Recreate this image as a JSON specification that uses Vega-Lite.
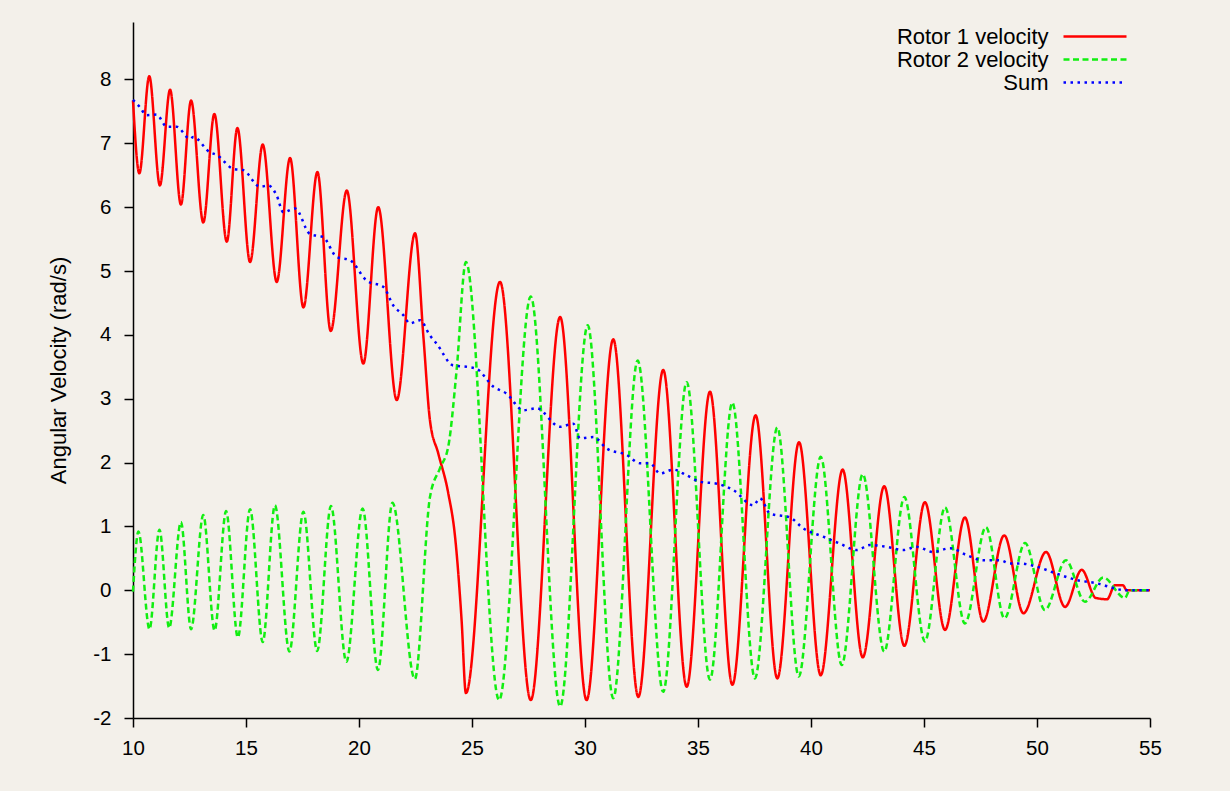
{
  "$schema": "https://vega.github.io/schema/vega-lite/v6.json",
  "width": 1017,
  "height": 696,
  "autosize": {"type": "none"},
  "padding": {"left": 133, "top": 22, "right": 80, "bottom": 73},
  "background": "#f3f0ea",
  "config": {
    "view": {"stroke": null},
    "font": "Liberation Sans",
    "axis": {
      "labelFont": "Liberation Sans",
      "labelFontSize": 20.5,
      "labelColor": "#000000",
      "titleFont": "Liberation Sans",
      "titleFontSize": 22,
      "titleFontWeight": "normal",
      "titleColor": "#000000",
      "domainColor": "#000000",
      "domainWidth": 1.5,
      "tickColor": "#000000",
      "tickWidth": 1.5,
      "tickSize": 9,
      "grid": false,
      "labelExpr": "'' + datum.value"
    }
  },
  "data": {
    "values": [
      {"series": "Rotor 1 velocity", "x": 10, "y": 7.67},
      {"series": "Rotor 1 velocity", "x": 10.28, "y": 6.53},
      {"series": "Rotor 1 velocity", "x": 10.72, "y": 8.05},
      {"series": "Rotor 1 velocity", "x": 11.19, "y": 6.34},
      {"series": "Rotor 1 velocity", "x": 11.64, "y": 7.84},
      {"series": "Rotor 1 velocity", "x": 12.12, "y": 6.04},
      {"series": "Rotor 1 velocity", "x": 12.57, "y": 7.67},
      {"series": "Rotor 1 velocity", "x": 13.11, "y": 5.76},
      {"series": "Rotor 1 velocity", "x": 13.6, "y": 7.46},
      {"series": "Rotor 1 velocity", "x": 14.15, "y": 5.46},
      {"series": "Rotor 1 velocity", "x": 14.62, "y": 7.24},
      {"series": "Rotor 1 velocity", "x": 15.18, "y": 5.14},
      {"series": "Rotor 1 velocity", "x": 15.74, "y": 6.98},
      {"series": "Rotor 1 velocity", "x": 16.36, "y": 4.83},
      {"series": "Rotor 1 velocity", "x": 16.95, "y": 6.77},
      {"series": "Rotor 1 velocity", "x": 17.54, "y": 4.43},
      {"series": "Rotor 1 velocity", "x": 18.16, "y": 6.55},
      {"series": "Rotor 1 velocity", "x": 18.75, "y": 4.06},
      {"series": "Rotor 1 velocity", "x": 19.46, "y": 6.26},
      {"series": "Rotor 1 velocity", "x": 20.19, "y": 3.55},
      {"series": "Rotor 1 velocity", "x": 20.85, "y": 6.0},
      {"series": "Rotor 1 velocity", "x": 21.67, "y": 2.98},
      {"series": "Rotor 1 velocity", "x": 22.48, "y": 5.59},
      {"series": "Rotor 1 velocity", "x": 22.85, "y": 3.97},
      {"series": "Rotor 1 velocity", "x": 23.14, "y": 2.66},
      {"series": "Rotor 1 velocity", "x": 23.51, "y": 2.14},
      {"series": "Rotor 1 velocity", "x": 23.95, "y": 1.52},
      {"series": "Rotor 1 velocity", "x": 24.25, "y": 0.84},
      {"series": "Rotor 1 velocity", "x": 24.54, "y": -0.47},
      {"series": "Rotor 1 velocity", "x": 24.73, "y": -1.61},
      {"series": "Rotor 1 velocity", "x": 26.24, "y": 4.83},
      {"series": "Rotor 1 velocity", "x": 27.6, "y": -1.72},
      {"series": "Rotor 1 velocity", "x": 28.9, "y": 4.28},
      {"series": "Rotor 1 velocity", "x": 30.07, "y": -1.72},
      {"series": "Rotor 1 velocity", "x": 31.25, "y": 3.93},
      {"series": "Rotor 1 velocity", "x": 32.36, "y": -1.67},
      {"series": "Rotor 1 velocity", "x": 33.46, "y": 3.45},
      {"series": "Rotor 1 velocity", "x": 34.5, "y": -1.51},
      {"series": "Rotor 1 velocity", "x": 35.53, "y": 3.11},
      {"series": "Rotor 1 velocity", "x": 36.52, "y": -1.48},
      {"series": "Rotor 1 velocity", "x": 37.55, "y": 2.74},
      {"series": "Rotor 1 velocity", "x": 38.51, "y": -1.38},
      {"series": "Rotor 1 velocity", "x": 39.47, "y": 2.32},
      {"series": "Rotor 1 velocity", "x": 40.43, "y": -1.33},
      {"series": "Rotor 1 velocity", "x": 41.4, "y": 1.89},
      {"series": "Rotor 1 velocity", "x": 42.29, "y": -1.05},
      {"series": "Rotor 1 velocity", "x": 43.24, "y": 1.63},
      {"series": "Rotor 1 velocity", "x": 44.13, "y": -0.87},
      {"series": "Rotor 1 velocity", "x": 45.04, "y": 1.38},
      {"series": "Rotor 1 velocity", "x": 45.93, "y": -0.62},
      {"series": "Rotor 1 velocity", "x": 46.81, "y": 1.14},
      {"series": "Rotor 1 velocity", "x": 47.62, "y": -0.49},
      {"series": "Rotor 1 velocity", "x": 48.55, "y": 0.86},
      {"series": "Rotor 1 velocity", "x": 49.4, "y": -0.36},
      {"series": "Rotor 1 velocity", "x": 50.4, "y": 0.6},
      {"series": "Rotor 1 velocity", "x": 51.24, "y": -0.26},
      {"series": "Rotor 1 velocity", "x": 51.98, "y": 0.32},
      {"series": "Rotor 1 velocity", "x": 52.6, "y": -0.12},
      {"series": "Rotor 1 velocity", "x": 53.1, "y": -0.14},
      {"series": "Rotor 1 velocity", "x": 53.45, "y": 0.08},
      {"series": "Rotor 1 velocity", "x": 53.8, "y": 0.08},
      {"series": "Rotor 1 velocity", "x": 53.97, "y": 0},
      {"series": "Rotor 1 velocity", "x": 55, "y": 0},
      {"series": "Rotor 2 velocity", "x": 10, "y": -0.02},
      {"series": "Rotor 2 velocity", "x": 10.24, "y": 0.92},
      {"series": "Rotor 2 velocity", "x": 10.73, "y": -0.61},
      {"series": "Rotor 2 velocity", "x": 11.17, "y": 0.95},
      {"series": "Rotor 2 velocity", "x": 11.6, "y": -0.59},
      {"series": "Rotor 2 velocity", "x": 12.12, "y": 1.07},
      {"series": "Rotor 2 velocity", "x": 12.57, "y": -0.61},
      {"series": "Rotor 2 velocity", "x": 13.11, "y": 1.18},
      {"series": "Rotor 2 velocity", "x": 13.61, "y": -0.63},
      {"series": "Rotor 2 velocity", "x": 14.12, "y": 1.24},
      {"series": "Rotor 2 velocity", "x": 14.64, "y": -0.74},
      {"series": "Rotor 2 velocity", "x": 15.18, "y": 1.27},
      {"series": "Rotor 2 velocity", "x": 15.74, "y": -0.81},
      {"series": "Rotor 2 velocity", "x": 16.28, "y": 1.33},
      {"series": "Rotor 2 velocity", "x": 16.92, "y": -0.96},
      {"series": "Rotor 2 velocity", "x": 17.54, "y": 1.23},
      {"series": "Rotor 2 velocity", "x": 18.15, "y": -0.95},
      {"series": "Rotor 2 velocity", "x": 18.76, "y": 1.32},
      {"series": "Rotor 2 velocity", "x": 19.44, "y": -1.12},
      {"series": "Rotor 2 velocity", "x": 20.16, "y": 1.28},
      {"series": "Rotor 2 velocity", "x": 20.84, "y": -1.25},
      {"series": "Rotor 2 velocity", "x": 21.48, "y": 1.37},
      {"series": "Rotor 2 velocity", "x": 22.47, "y": -1.39},
      {"series": "Rotor 2 velocity", "x": 23.14, "y": 1.46},
      {"series": "Rotor 2 velocity", "x": 23.58, "y": 1.91},
      {"series": "Rotor 2 velocity", "x": 23.95, "y": 2.25},
      {"series": "Rotor 2 velocity", "x": 24.32, "y": 3.45},
      {"series": "Rotor 2 velocity", "x": 24.73, "y": 5.14},
      {"series": "Rotor 2 velocity", "x": 26.2, "y": -1.72},
      {"series": "Rotor 2 velocity", "x": 27.6, "y": 4.6},
      {"series": "Rotor 2 velocity", "x": 28.9, "y": -1.82},
      {"series": "Rotor 2 velocity", "x": 30.12, "y": 4.15},
      {"series": "Rotor 2 velocity", "x": 31.25, "y": -1.69},
      {"series": "Rotor 2 velocity", "x": 32.33, "y": 3.6},
      {"series": "Rotor 2 velocity", "x": 33.46, "y": -1.59},
      {"series": "Rotor 2 velocity", "x": 34.5, "y": 3.26},
      {"series": "Rotor 2 velocity", "x": 35.53, "y": -1.4},
      {"series": "Rotor 2 velocity", "x": 36.52, "y": 2.94},
      {"series": "Rotor 2 velocity", "x": 37.52, "y": -1.38},
      {"series": "Rotor 2 velocity", "x": 38.51, "y": 2.55},
      {"series": "Rotor 2 velocity", "x": 39.46, "y": -1.35},
      {"series": "Rotor 2 velocity", "x": 40.43, "y": 2.09},
      {"series": "Rotor 2 velocity", "x": 41.36, "y": -1.17},
      {"series": "Rotor 2 velocity", "x": 42.29, "y": 1.82},
      {"series": "Rotor 2 velocity", "x": 43.24, "y": -0.96},
      {"series": "Rotor 2 velocity", "x": 44.13, "y": 1.46},
      {"series": "Rotor 2 velocity", "x": 45.04, "y": -0.8},
      {"series": "Rotor 2 velocity", "x": 45.93, "y": 1.3},
      {"series": "Rotor 2 velocity", "x": 46.81, "y": -0.52},
      {"series": "Rotor 2 velocity", "x": 47.74, "y": 0.99},
      {"series": "Rotor 2 velocity", "x": 48.56, "y": -0.44},
      {"series": "Rotor 2 velocity", "x": 49.47, "y": 0.74},
      {"series": "Rotor 2 velocity", "x": 50.35, "y": -0.31},
      {"series": "Rotor 2 velocity", "x": 51.28, "y": 0.47},
      {"series": "Rotor 2 velocity", "x": 52.12, "y": -0.18},
      {"series": "Rotor 2 velocity", "x": 52.93, "y": 0.2},
      {"series": "Rotor 2 velocity", "x": 53.89, "y": -0.12},
      {"series": "Rotor 2 velocity", "x": 54.1, "y": 0},
      {"series": "Rotor 2 velocity", "x": 55, "y": 0},
      {"series": "Sum", "x": 10, "y": 7.68},
      {"series": "Sum", "x": 10.3, "y": 7.57},
      {"series": "Sum", "x": 10.6, "y": 7.44},
      {"series": "Sum", "x": 11.05, "y": 7.45},
      {"series": "Sum", "x": 11.49, "y": 7.26},
      {"series": "Sum", "x": 11.93, "y": 7.26},
      {"series": "Sum", "x": 12.52, "y": 7.07},
      {"series": "Sum", "x": 12.67, "y": 7.1},
      {"series": "Sum", "x": 13.4, "y": 6.86},
      {"series": "Sum", "x": 13.7, "y": 6.82},
      {"series": "Sum", "x": 14.44, "y": 6.6},
      {"series": "Sum", "x": 14.88, "y": 6.58},
      {"series": "Sum", "x": 15.62, "y": 6.32},
      {"series": "Sum", "x": 15.99, "y": 6.34},
      {"series": "Sum", "x": 16.36, "y": 6.18},
      {"series": "Sum", "x": 16.65, "y": 5.92},
      {"series": "Sum", "x": 17.17, "y": 5.98},
      {"series": "Sum", "x": 17.83, "y": 5.58},
      {"series": "Sum", "x": 18.42, "y": 5.53},
      {"series": "Sum", "x": 19.01, "y": 5.22},
      {"series": "Sum", "x": 19.6, "y": 5.17},
      {"series": "Sum", "x": 20.34, "y": 4.85},
      {"series": "Sum", "x": 21.08, "y": 4.75},
      {"series": "Sum", "x": 21.52, "y": 4.46},
      {"series": "Sum", "x": 21.96, "y": 4.31},
      {"series": "Sum", "x": 22.26, "y": 4.18},
      {"series": "Sum", "x": 22.7, "y": 4.23},
      {"series": "Sum", "x": 23.14, "y": 3.99},
      {"series": "Sum", "x": 23.44, "y": 3.86},
      {"series": "Sum", "x": 24.17, "y": 3.52},
      {"series": "Sum", "x": 24.76, "y": 3.5},
      {"series": "Sum", "x": 25.2, "y": 3.47},
      {"series": "Sum", "x": 25.94, "y": 3.19},
      {"series": "Sum", "x": 26.53, "y": 3.08},
      {"series": "Sum", "x": 27.27, "y": 2.82},
      {"series": "Sum", "x": 27.86, "y": 2.85},
      {"series": "Sum", "x": 28.89, "y": 2.56},
      {"series": "Sum", "x": 29.48, "y": 2.61},
      {"series": "Sum", "x": 29.78, "y": 2.38},
      {"series": "Sum", "x": 30.37, "y": 2.4},
      {"series": "Sum", "x": 30.96, "y": 2.22},
      {"series": "Sum", "x": 31.84, "y": 2.12},
      {"series": "Sum", "x": 32.43, "y": 1.99},
      {"series": "Sum", "x": 32.88, "y": 1.99},
      {"series": "Sum", "x": 33.32, "y": 1.83},
      {"series": "Sum", "x": 33.91, "y": 1.89},
      {"series": "Sum", "x": 34.5, "y": 1.8},
      {"series": "Sum", "x": 35.09, "y": 1.7},
      {"series": "Sum", "x": 35.83, "y": 1.67},
      {"series": "Sum", "x": 36.56, "y": 1.57},
      {"series": "Sum", "x": 37.45, "y": 1.33},
      {"series": "Sum", "x": 37.74, "y": 1.44},
      {"series": "Sum", "x": 38.19, "y": 1.2},
      {"series": "Sum", "x": 39.07, "y": 1.14},
      {"series": "Sum", "x": 39.66, "y": 0.97},
      {"series": "Sum", "x": 40.54, "y": 0.84},
      {"series": "Sum", "x": 41.28, "y": 0.73},
      {"series": "Sum", "x": 42.02, "y": 0.63},
      {"series": "Sum", "x": 42.61, "y": 0.71},
      {"series": "Sum", "x": 43.35, "y": 0.68},
      {"series": "Sum", "x": 44.08, "y": 0.63},
      {"series": "Sum", "x": 44.67, "y": 0.68},
      {"series": "Sum", "x": 45.41, "y": 0.6},
      {"series": "Sum", "x": 46.15, "y": 0.66},
      {"series": "Sum", "x": 46.89, "y": 0.55},
      {"series": "Sum", "x": 47.63, "y": 0.47},
      {"series": "Sum", "x": 48.36, "y": 0.47},
      {"series": "Sum", "x": 48.81, "y": 0.42},
      {"series": "Sum", "x": 49.25, "y": 0.42},
      {"series": "Sum", "x": 49.99, "y": 0.37},
      {"series": "Sum", "x": 50.87, "y": 0.26},
      {"series": "Sum", "x": 51.76, "y": 0.16},
      {"series": "Sum", "x": 52.64, "y": 0.11},
      {"series": "Sum", "x": 53.23, "y": 0.05},
      {"series": "Sum", "x": 53.53, "y": 0.02},
      {"series": "Sum", "x": 53.97, "y": 0},
      {"series": "Sum", "x": 55, "y": 0}
    ]
  },
  "mark": {"type": "line", "interpolate": "monotone", "strokeWidth": 2.5},
  "encoding": {
    "x": {
      "field": "x",
      "type": "quantitative",
      "scale": {"domain": [10, 55], "nice": false, "zero": false},
      "axis": {"title": null, "values": [10, 15, 20, 25, 30, 35, 40, 45, 50, 55], "labelPadding": 11, "labelFlush": false}
    },
    "y": {
      "field": "y",
      "type": "quantitative",
      "scale": {"domain": [-2, 8.9], "nice": false, "zero": false},
      "axis": {"title": "Angular Velocity (rad/s)", "values": [-2, -1, 0, 1, 2, 3, 4, 5, 6, 7, 8], "labelPadding": 13, "titlePadding": 22, "labelFlush": false}
    },
    "color": {
      "field": "series",
      "type": "nominal",
      "scale": {"domain": ["Rotor 1 velocity", "Rotor 2 velocity", "Sum"], "range": ["#ff0000", "#11ee11", "#0000ff"]},
      "legend": {
        "title": null,
        "orient": "none",
        "legendX": 950,
        "legendY": 2.5,
        "symbolType": "M-3,0H3",
        "symbolSize": 441,
        "symbolStrokeWidth": 2.5,
        "labelAlign": "right",
        "labelOffset": -58.5,
        "labelFont": "Liberation Sans",
        "labelFontSize": 22,
        "labelColor": "#000000",
        "rowPadding": 0,
        "labelLimit": 400
      }
    },
    "strokeDash": {
      "field": "series",
      "type": "nominal",
      "scale": {"domain": ["Rotor 1 velocity", "Rotor 2 velocity", "Sum"], "range": [[1, 0], [6, 3.5], [2.5, 4.5]]},
      "legend": {
        "title": null,
        "orient": "none",
        "legendX": 950,
        "legendY": 2.5,
        "symbolType": "M-3,0H3",
        "symbolSize": 441,
        "symbolStrokeWidth": 2.5,
        "labelAlign": "right",
        "labelOffset": -58.5,
        "labelFont": "Liberation Sans",
        "labelFontSize": 22,
        "labelColor": "#000000",
        "rowPadding": 0,
        "labelLimit": 400
      }
    }
  }
}
